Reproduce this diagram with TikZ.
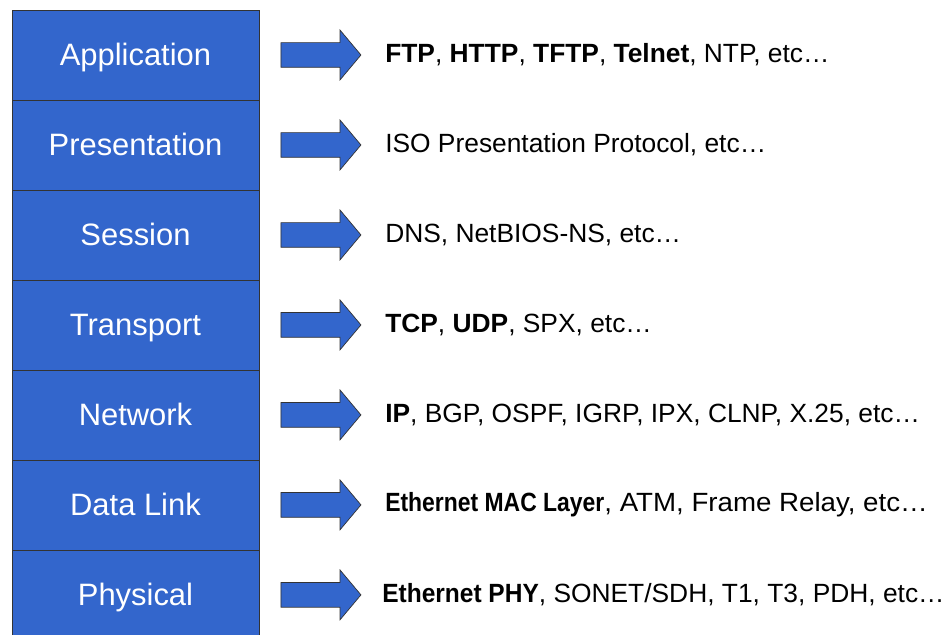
\documentclass[tikz,border=0pt]{standalone}
\usepackage{fontspec}
\setmainfont{Liberation Sans}
\newfontfamily\tightfont{Liberation Sans}[FakeStretch=0.87]
\newfontfamily\phyfont{Liberation Sans}[FakeStretch=0.93]
\newfontfamily\wideish{Liberation Sans}[FakeStretch=1.05]
\usetikzlibrary{positioning, shapes.arrows}

\definecolor{layerblue}{RGB}{51,102,204}

\tikzset{
  layer/.style={draw=black!80, fill=layerblue, text=white, minimum width=4.94cm,
    minimum height=1.8cm, inner sep=0pt, outer sep=0pt, text height=12.5pt, text depth=0pt,
    font=\fontsize{17.6}{20}\selectfont},
  pointer/.style={single arrow, draw=black!80, fill=layerblue, minimum height=1.6cm,
    inner xsep=0pt, inner ysep=0.24cm, single arrow head extend=0.25cm,
    single arrow tip angle=100, outer sep=0pt},
  proto/.style={anchor=west, inner sep=0pt, font=\fontsize{15}{18}\selectfont}
}

\begin{document}
\begin{tikzpicture}[x=0.02cm, y=-0.02cm]
\clip (0,0) rectangle (947,635);
\fill[white] (0,0) rectangle (947,635);

\node[layer, anchor=north west] (app) at (12,10) {Application};
\node[layer, below=0pt of app] (pres) {Presentation};
\node[layer, below=0pt of pres] (sess) {Session};
\node[layer, below=0pt of sess] (trans) {Transport};
\node[layer, below=0pt of trans] (net) {Network};
\node[layer, below=0pt of net] (link) {Data Link};
\node[layer, below=0pt of link] (phys) {Physical};

\node[pointer, right=0.44cm of app] (appArrow) {};
\node[pointer, right=0.44cm of pres] (presArrow) {};
\node[pointer, right=0.44cm of sess] (sessArrow) {};
\node[pointer, right=0.44cm of trans] (transArrow) {};
\node[pointer, right=0.44cm of net] (netArrow) {};
\node[pointer, right=0.44cm of link] (linkArrow) {};
\node[pointer, right=0.44cm of phys] (physArrow) {};

\node[proto, right=0.48cm of appArrow.tip] (appText) {\textbf{FTP}, \textbf{HTTP}, \textbf{TFTP}, \textbf{Telnet}, NTP, etc\ldots};
\node[proto, right=0.48cm of presArrow.tip] (presText) {ISO Presentation Protocol, etc\ldots};
\node[proto, right=0.48cm of sessArrow.tip] (sessText) {DNS, NetBIOS-NS, etc\ldots};
\node[proto, right=0.48cm of transArrow.tip] (transText) {\textbf{TCP}, \textbf{UDP}, SPX, etc\ldots};
\node[proto, right=0.48cm of netArrow.tip] (netText) {\textbf{IP}, BGP, OSPF, IGRP, IPX, CLNP, X.25, etc\ldots};
\node[proto, right=0.48cm of linkArrow.tip] (linkText) {{\tightfont\bfseries Ethernet MAC Layer}{\wideish, ATM, Frame Relay, etc\ldots}};
\node[proto, right=0.42cm of physArrow.tip] (physText) {{\phyfont\bfseries Ethernet PHY}, SONET/SDH, T1, T3, PDH, etc\ldots};
\end{tikzpicture}
\end{document}
